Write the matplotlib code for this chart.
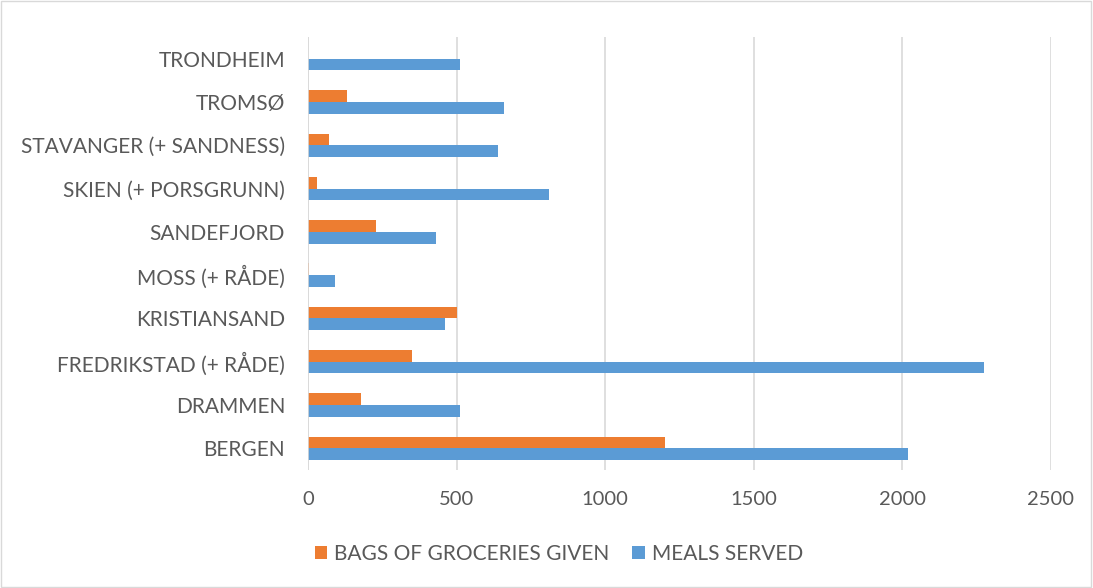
import numpy as np
import matplotlib
matplotlib.use('Agg')
import matplotlib.pyplot as plt
from matplotlib.patches import Rectangle

# data, bottom to top as drawn
cities = ['BERGEN', 'DRAMMEN', 'FREDRIKSTAD (+ RÅDE)', 'KRISTIANSAND', 'MOSS (+ RÅDE)',
          'SANDEFJORD', 'SKIEN (+ PORSGRUNN)', 'STAVANGER (+ SANDNESS)', 'TROMSØ', 'TRONDHEIM']
meals = [2020, 510, 2275, 460, 90, 430, 810, 640, 660, 510]
bags = [1200, 180, 350, 500, 5, 230, 30, 70, 130, 0]

plt.rcParams['font.family'] = ['Lato', 'DejaVu Sans']
grey = '#595959'
orange = '#ED7D31'
blue = '#5B9BD5'

fig = plt.figure(figsize=(10.93, 5.88), dpi=100)
ax = fig.add_axes([308 / 1093, 1 - 470 / 588, (1051 - 308) / 1093, 433 / 588])

y = np.arange(len(cities))
h = 0.27
ax.barh(y - h / 2, meals, height=h, color=blue, label='MEALS SERVED', zorder=3)
ax.barh(y + h / 2, bags, height=h, color=orange, label='BAGS OF GROCERIES GIVEN', zorder=3)

ax.set_xlim(0, 2500)
ax.set_ylim(-0.5, len(cities) - 0.5)
ax.set_xticks(np.arange(0, 2501, 500))
ax.set_yticks(y)
ax.set_yticklabels(cities)
ax.tick_params(axis='both', length=0, labelcolor=grey)
ax.tick_params(axis='x', pad=15, labelsize=14.5)
ax.tick_params(axis='y', pad=16.5, labelsize=15)
ax.xaxis.grid(True, color='#D9D9D9', linewidth=1.2, zorder=0)
for s in ax.spines.values():
    s.set_visible(False)
ax.axvline(0, color='#D9D9D9', linewidth=1.2, zorder=4)

handles, labels = ax.get_legend_handles_labels()
fig.legend(handles[::-1], labels[::-1], loc='center', bbox_to_anchor=(559 / 1093, 1 - 554 / 588),
           ncol=2, frameon=False, fontsize=15, labelcolor=grey, handlelength=0.6,
           handleheight=0.6, columnspacing=1.1, handletextpad=0.35)

# thin outer frame
fig.patches.append(Rectangle((0.001, 0.001), 0.997, 0.997, transform=fig.transFigure,
                             fill=False, edgecolor='#D9D9D9', linewidth=1))

fig.savefig('out.png', dpi=100)
